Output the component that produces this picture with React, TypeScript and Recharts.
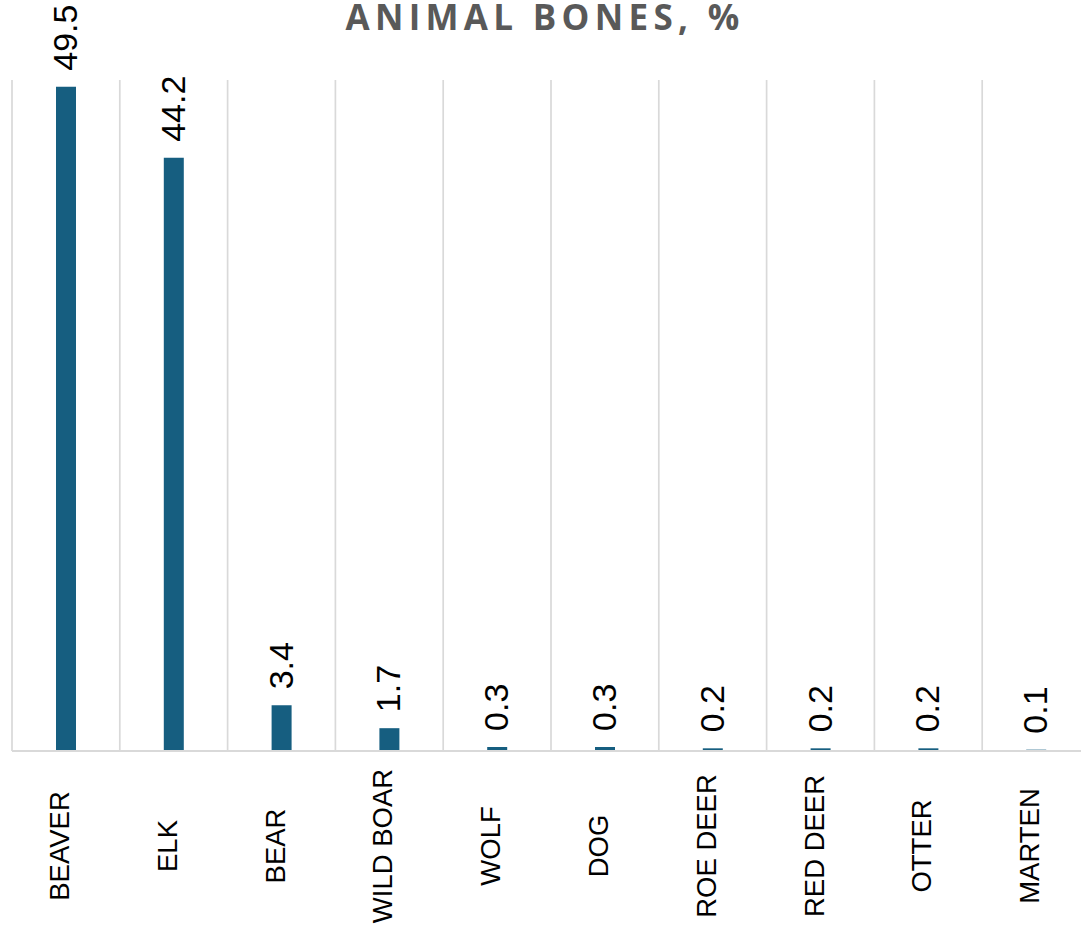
import { BarChart, Bar, XAxis, YAxis, CartesianGrid, LabelList } from "recharts";

const categories = [
  "BEAVER",
  "ELK",
  "BEAR",
  "WILD BOAR",
  "WOLF",
  "DOG",
  "ROE DEER",
  "RED DEER",
  "OTTER",
  "MARTEN",
];
const values = [49.5, 44.2, 3.4, 1.7, 0.3, 0.3, 0.2, 0.2, 0.2, 0.1];
const yDomain = [0, 50];

const data = categories.map((name, i) => ({ name, value: values[i] }));

const labelFont = "'Liberation Sans Narrow', 'Liberation Sans', Arial, sans-serif";

function CategoryTick({ x, y, payload }: any) {
  // rotated, reads bottom to top, roughly centred in the label band
  return (
    <text
      transform={`translate(${x + 3},${y + 95}) rotate(-90)`}
      textAnchor="middle"
      fontFamily={labelFont}
      fontSize={27.5}
      fill="#000"
    >
      {payload.value}
    </text>
  );
}

function ValueLabel({ x, y, width, value }: any) {
  const cx = x + width / 2;
  return (
    <text
      transform={`translate(${cx + 11},${y - 16}) rotate(-90)`}
      textAnchor="start"
      fontFamily={labelFont}
      fontSize={34}
      fill="#000"
    >
      {Number(value).toFixed(1)}
    </text>
  );
}

export default function App() {
  return (
    <div
      style={{
        position: "fixed",
        left: 0,
        top: 0,
        width: 1081,
        height: 940,
        overflow: "hidden",
        background: "#fff",
      }}
    >
      <div
        style={{
          position: "absolute",
          left: 12,
          top: 0,
          width: 1066,
          textAlign: "center",
          fontFamily: "'Open Sans', sans-serif",
          fontWeight: 700,
          fontSize: 35,
          lineHeight: "34px",
          letterSpacing: 5.3,
          color: "#595959",
          whiteSpace: "nowrap",
        }}
      >
        ANIMAL BONES, %
      </div>
      <BarChart
        width={1100}
        height={940}
        data={data}
        margin={{ top: 80, right: 10, bottom: 0, left: 12 }}
      >
        <CartesianGrid
          horizontal={false}
          stroke="#d9d9d9"
          strokeWidth={1.7}
          verticalCoordinatesGenerator={({ offset }: any) =>
            Array.from(
              { length: categories.length + 1 },
              (_, i) => offset.left + (i * offset.width) / categories.length
            )
          }
        />
        <XAxis
          dataKey="name"
          interval={0}
          height={189}
          tickLine={false}
          tickSize={0}
          tickMargin={0}
          axisLine={{ stroke: "#d9d9d9", strokeWidth: 2 }}
          tick={<CategoryTick />}
        />
        <YAxis hide domain={yDomain} />
        <Bar dataKey="value" fill="#165e80" barSize={20} isAnimationActive={false}>
          <LabelList dataKey="value" content={<ValueLabel />} />
        </Bar>
      </BarChart>
    </div>
  );
}
